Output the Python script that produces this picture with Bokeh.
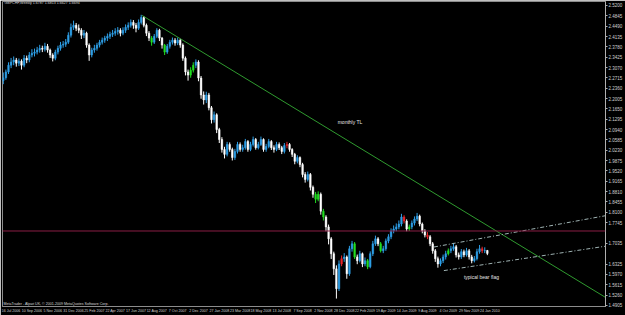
from bokeh.plotting import figure
from bokeh.models import FixedTicker, Range1d, Label, Span, ColumnDataSource, NumeralTickFormatter
from bokeh.core.properties import value
from bokeh.embed import file_html
from bokeh.resources import INLINE

# ---- data (GBPCHF weekly) ----
first_open = 2.262
close = [
    2.272, 2.292, 2.315, 2.326, 2.333, 2.322, 2.329, 2.315, 2.339, 2.333,
    2.350, 2.356, 2.360, 2.367, 2.373, 2.370, 2.380, 2.367, 2.350, 2.339,
    2.360, 2.373, 2.384, 2.387, 2.394, 2.418, 2.445, 2.452, 2.442, 2.435,
    2.418, 2.425, 2.384, 2.350, 2.367, 2.373, 2.384, 2.394, 2.401, 2.408,
    2.414, 2.421, 2.425, 2.431, 2.435, 2.425, 2.435, 2.445, 2.452, 2.462,
    2.452, 2.442, 2.462, 2.479, 2.452, 2.425, 2.408, 2.394, 2.414, 2.435,
    2.408, 2.384, 2.360, 2.380, 2.394, 2.401, 2.391, 2.401, 2.384, 2.339,
    2.292, 2.281, 2.298, 2.315, 2.326, 2.271, 2.213, 2.196, 2.213, 2.169,
    2.128, 2.145, 2.094, 2.060, 2.026, 2.009, 2.043, 2.026, 1.998, 2.019,
    2.043, 2.026, 2.032, 2.053, 2.026, 2.043, 2.060, 2.032, 2.043, 2.060,
    2.026, 2.036, 2.053, 2.032, 2.026, 2.043, 2.032, 2.019, 2.039, 2.043,
    2.026, 2.009, 1.985, 1.998, 1.974, 1.940, 1.923, 1.940, 1.896, 1.872,
    1.855, 1.872, 1.814, 1.794, 1.760, 1.719, 1.668, 1.616, 1.548, 1.633,
    1.651, 1.657, 1.599, 1.685, 1.702, 1.657, 1.644, 1.668, 1.633, 1.644,
    1.623, 1.668, 1.702, 1.719, 1.702, 1.678, 1.685, 1.712, 1.726, 1.746,
    1.753, 1.760, 1.770, 1.794, 1.780, 1.753, 1.760, 1.773, 1.787, 1.797,
    1.770, 1.746, 1.732, 1.726, 1.702, 1.678, 1.651, 1.633, 1.644, 1.657,
    1.668, 1.678, 1.685, 1.692, 1.664, 1.657, 1.675, 1.664, 1.678, 1.657,
    1.644, 1.651, 1.675, 1.685, 1.678, 1.679, 1.669,
]
high = [
    2.290, 2.300, 2.325, 2.340, 2.345, 2.340, 2.338, 2.335, 2.350, 2.348,
    2.360, 2.370, 2.372, 2.378, 2.385, 2.382, 2.392, 2.388, 2.372, 2.356,
    2.368, 2.382, 2.395, 2.398, 2.405, 2.428, 2.458, 2.468, 2.460, 2.455,
    2.442, 2.436, 2.430, 2.390, 2.375, 2.385, 2.392, 2.402, 2.410, 2.416,
    2.424, 2.430, 2.436, 2.442, 2.446, 2.442, 2.445, 2.455, 2.462, 2.472,
    2.470, 2.460, 2.472, 2.488, 2.484, 2.458, 2.432, 2.415, 2.422, 2.442,
    2.440, 2.412, 2.388, 2.388, 2.402, 2.410, 2.408, 2.410, 2.406, 2.390,
    2.345, 2.300, 2.308, 2.325, 2.335, 2.332, 2.278, 2.225, 2.224, 2.220,
    2.175, 2.156, 2.150, 2.100, 2.068, 2.035, 2.052, 2.050, 2.032, 2.028,
    2.052, 2.050, 2.042, 2.062, 2.058, 2.052, 2.070, 2.065, 2.052, 2.070,
    2.064, 2.045, 2.062, 2.058, 2.040, 2.052, 2.050, 2.038, 2.048, 2.052,
    2.048, 2.030, 2.014, 2.006, 2.002, 1.980, 1.948, 1.950, 1.945, 1.902,
    1.880, 1.882, 1.878, 1.822, 1.800, 1.768, 1.725, 1.675, 1.628, 1.645,
    1.662, 1.670, 1.662, 1.695, 1.712, 1.708, 1.665, 1.678, 1.672, 1.655,
    1.650, 1.676, 1.712, 1.730, 1.725, 1.708, 1.695, 1.720, 1.735, 1.755,
    1.765, 1.772, 1.782, 1.805, 1.800, 1.786, 1.768, 1.782, 1.796, 1.808,
    1.802, 1.775, 1.752, 1.742, 1.732, 1.708, 1.684, 1.658, 1.652, 1.665,
    1.678, 1.686, 1.695, 1.705, 1.698, 1.672, 1.684, 1.682, 1.688, 1.684,
    1.664, 1.660, 1.685, 1.698, 1.692, 1.690, 1.681,
]
low = [
    2.250, 2.265, 2.285, 2.305, 2.315, 2.310, 2.312, 2.300, 2.308, 2.322,
    2.325, 2.342, 2.345, 2.352, 2.358, 2.360, 2.362, 2.358, 2.340, 2.328,
    2.332, 2.352, 2.365, 2.375, 2.378, 2.388, 2.410, 2.436, 2.432, 2.425,
    2.405, 2.408, 2.375, 2.330, 2.342, 2.358, 2.365, 2.376, 2.386, 2.392,
    2.398, 2.405, 2.412, 2.416, 2.420, 2.414, 2.418, 2.426, 2.436, 2.444,
    2.440, 2.428, 2.436, 2.455, 2.445, 2.415, 2.398, 2.382, 2.388, 2.408,
    2.398, 2.372, 2.350, 2.354, 2.372, 2.386, 2.382, 2.384, 2.375, 2.330,
    2.280, 2.262, 2.272, 2.290, 2.305, 2.260, 2.200, 2.180, 2.185, 2.160,
    2.115, 2.118, 2.082, 2.048, 2.015, 1.995, 2.002, 2.018, 1.988, 1.990,
    2.012, 2.018, 2.018, 2.025, 2.018, 2.020, 2.036, 2.025, 2.026, 2.038,
    2.018, 2.018, 2.030, 2.024, 2.015, 2.020, 2.024, 2.010, 2.012, 2.030,
    2.018, 2.000, 1.975, 1.978, 1.965, 1.930, 1.912, 1.916, 1.885, 1.860,
    1.842, 1.848, 1.802, 1.782, 1.745, 1.700, 1.650, 1.595, 1.514, 1.540,
    1.625, 1.640, 1.582, 1.592, 1.675, 1.650, 1.632, 1.638, 1.622, 1.625,
    1.615, 1.618, 1.660, 1.695, 1.694, 1.672, 1.670, 1.678, 1.704, 1.718,
    1.738, 1.745, 1.752, 1.762, 1.772, 1.745, 1.746, 1.752, 1.765, 1.780,
    1.762, 1.738, 1.724, 1.718, 1.694, 1.668, 1.640, 1.620, 1.625, 1.636,
    1.648, 1.662, 1.670, 1.678, 1.655, 1.648, 1.650, 1.656, 1.658, 1.648,
    1.635, 1.638, 1.645, 1.668, 1.670, 1.670, 1.663,
]
green_weeks = [57, 62, 72, 73, 120, 121, 123, 135, 140, 145, 156, 171]
red_weeks = [109, 130, 154, 163, 184]

date_weeks = [0, 8, 16, 24, 32, 40, 48, 56, 64, 72, 80, 88, 96, 104, 112, 120,
              128, 136, 144, 152, 160, 168, 176, 184]
date_labels = ["16 Jul 2006", "10 Sep 2006", "5 Nov 2006", "31 Dec 2006",
               "25 Feb 2007", "22 Apr 2007", "17 Jun 2007", "12 Aug 2007",
               "7 Oct 2007", "2 Dec 2007", "27 Jan 2008", "23 Mar 2008",
               "18 May 2008", "13 Jul 2008", "7 Sep 2008", "2 Nov 2008",
               "28 Dec 2008", "22 Feb 2009", "19 Apr 2009", "14 Jun 2009",
               "9 Aug 2009", "4 Oct 2009", "29 Nov 2009", "24 Jan 2010"]
price_ticks = [2.5200, 2.4845, 2.4490, 2.4135, 2.3780, 2.3425, 2.3070, 2.2715,
               2.2360, 2.2005, 2.1650, 2.1295, 2.0940, 2.0585, 2.0230, 1.9875,
               1.9520, 1.9165, 1.8810, 1.8455, 1.8100, 1.7745, 1.7035,
               1.6325, 1.5970, 1.5615, 1.5260, 1.4905]

trend_weeks = [53.3, 236.0]
trend_prices = [2.486, 1.493]
flag_upper_weeks = [165.5, 236.0]
flag_upper_prices = [1.691, 1.806]
flag_lower_weeks = [169.3, 236.0]
flag_lower_prices = [1.610, 1.700]
hline_price = 1.7460
last_price = 1.6694
notes = ["monthly TL", "typical bear flag"]
note_weeks = [128.5, 177.0]
note_prices = [2.121, 1.589]

NARROW = "'Liberation Sans Narrow', 'Liberation Sans', sans-serif"

# ---- build ----
weeks = list(range(len(close)))
opens = [first_open] + close[:-1]
colors = []
for i, (o, c) in enumerate(zip(opens, close)):
    if i in green_weeks:
        colors.append("#22dd22")
    elif i in red_weeks:
        colors.append("#e8262a")
    elif c >= o:
        colors.append("#2e9fe6")
    else:
        colors.append("#ffffff")
src = ColumnDataSource(dict(x=weeks, o=opens, c=close, h=high, l=low, col=colors,
                            top=[max(a, b) for a, b in zip(opens, close)],
                            bot=[min(a, b) for a, b in zip(opens, close)]))

p = figure(width=625, height=315, output_backend="svg", toolbar_location=None,
           x_range=Range1d(-0.3, 231.4), y_range=Range1d(1.4868, 2.5337),
           x_axis_location="below", y_axis_location="right",
           background_fill_color="black", border_fill_color="black",
           min_border_left=2, min_border_right=20, min_border_top=1, min_border_bottom=7)
p.grid.visible = False
p.outline_line_color = "#8c8c8c"

p.segment(x0="x", x1="x", y0="l", y1="h", color="col", line_width=1, source=src)
p.vbar(x="x", width=0.62, top="top", bottom="bot", fill_color="col", line_color="col",
       line_width=0.5, source=src)

p.line(trend_weeks, trend_prices, line_color="#2f9a2f", line_width=1)
p.line(flag_upper_weeks, flag_upper_prices, line_color="#9fb3b3", line_width=1, line_dash="4 2 1 2")
p.line(flag_lower_weeks, flag_lower_prices, line_color="#9fb3b3", line_width=1, line_dash="4 2 1 2")
p.add_layout(Span(location=hline_price, dimension="width", line_color="#8a1e44", line_width=1))

p.text(note_weeks, note_prices, text=notes, text_color="#e6e6e6",
       text_font=value(NARROW), text_font_size="5px", text_baseline="middle")

# axes
xax = p.xaxis[0]
shift = 3
xax.ticker = FixedTicker(ticks=[w + shift for w in date_weeks])
xax.major_label_overrides = {w + shift: lab for w, lab in zip(date_weeks, date_labels)}
xax.major_tick_in = 0
xax.major_tick_out = 0
xax.minor_tick_out = 0
xax.minor_tick_in = 0
xax.major_label_standoff = 2
xax.axis_line_color = "#8c8c8c"
xax.major_label_text_color = "#d0d0d0"
xax.major_label_text_font = NARROW
xax.major_label_text_font_size = "3.6px"

yax = p.yaxis[0]
yax.ticker = FixedTicker(ticks=price_ticks)
yax.formatter = NumeralTickFormatter(format="0.0000")
yax.major_tick_out = 2
yax.major_tick_in = 0
yax.minor_tick_out = 0
yax.minor_tick_in = 0
yax.major_label_standoff = 1
yax.axis_line_color = "#b0b0b0"
yax.major_tick_line_color = "#b0b0b0"
yax.major_label_text_color = "#d0d0d0"
yax.major_label_text_font = NARROW
yax.major_label_text_font_size = "4.5px"

# header, footer, price tags
p.add_layout(Label(x=2, y=304, x_units="screen", y_units="screen",
                   text="GBPCHF,Weekly  1.6787 1.6813 1.6627 1.6694",
                   text_color="#d8d8d8", text_font_size="3.6px", text_font=NARROW,
                   text_baseline="middle"))
p.add_layout(Label(x=1, y=3, x_units="screen", y_units="screen",
                   text="MetaTrader - Alpari UK, \u00a9 2001-2009 MetaQuotes Software Corp.",
                   text_color="#d8d8d8", text_font_size="3.6px", text_font=NARROW,
                   text_baseline="middle"))
p.add_layout(Label(x=604, y=hline_price, x_units="screen", y_units="data",
                   text="%.4f" % hline_price, text_color="#ffffff", text_font_size="4.5px",
                   text_font=NARROW, text_baseline="middle",
                   background_fill_color="#d42a8c", padding=1))
p.add_layout(Label(x=604, y=last_price, x_units="screen", y_units="data",
                   text="%.4f" % last_price, text_color="#000000", text_font_size="4.5px",
                   text_font=NARROW, text_baseline="middle",
                   background_fill_color="#ffffff", padding=1))

open("out.html", "w").write(file_html(p, INLINE))
